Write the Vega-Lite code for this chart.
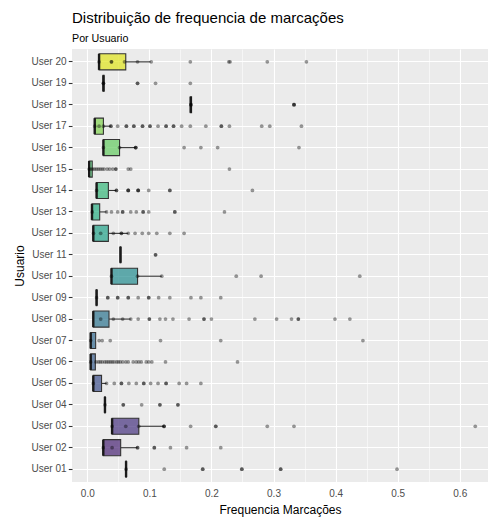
{
 "$schema": "https://vega.github.io/schema/vega-lite/v6.json",
 "width": 416,
 "height": 433,
 "autosize": "none",
 "padding": {"left": 72, "top": 49, "right": 1, "bottom": 44},
 "title": {"text": "Distribuição de frequencia de marcações", "subtitle": "Por Usuario", "anchor": "start", "frame": "group", "fontSize": 15, "fontWeight": "normal", "subtitleFontSize": 10.7, "color": "black", "subtitleColor": "black", "offset": 5, "subtitlePadding": 8, "font": "Liberation Sans", "subtitleFont": "Liberation Sans"},
 "datasets": {
  "boxes": [
   {"user": "User 20", "lo": 0.019, "q1": 0.019, "med": 0.019, "q3": 0.062, "hi": 0.102},
   {"user": "User 19", "lo": 0.0255, "q1": 0.0255, "med": 0.026, "q3": 0.027, "hi": 0.027},
   {"user": "User 18", "lo": 0.166, "q1": 0.166, "med": 0.1667, "q3": 0.168, "hi": 0.168},
   {"user": "User 17", "lo": 0.012, "q1": 0.012, "med": 0.012, "q3": 0.026, "hi": 0.038},
   {"user": "User 16", "lo": 0.026, "q1": 0.026, "med": 0.026, "q3": 0.052, "hi": 0.078},
   {"user": "User 15", "lo": 0.003, "q1": 0.003, "med": 0.003, "q3": 0.008, "hi": 0.008},
   {"user": "User 14", "lo": 0.015, "q1": 0.015, "med": 0.015, "q3": 0.034, "hi": 0.047},
   {"user": "User 13", "lo": 0.0076, "q1": 0.0076, "med": 0.0076, "q3": 0.02, "hi": 0.031},
   {"user": "User 12", "lo": 0.0097, "q1": 0.0097, "med": 0.0097, "q3": 0.034, "hi": 0.066},
   {"user": "User 11", "lo": 0.053, "q1": 0.053, "med": 0.0535, "q3": 0.054, "hi": 0.054},
   {"user": "User 10", "lo": 0.039, "q1": 0.039, "med": 0.039, "q3": 0.081, "hi": 0.12},
   {"user": "User 09", "lo": 0.0145, "q1": 0.0145, "med": 0.015, "q3": 0.0155, "hi": 0.0155},
   {"user": "User 08", "lo": 0.0097, "q1": 0.0097, "med": 0.0097, "q3": 0.035, "hi": 0.07},
   {"user": "User 07", "lo": 0.0055, "q1": 0.0055, "med": 0.0055, "q3": 0.0135, "hi": 0.0135},
   {"user": "User 06", "lo": 0.0055, "q1": 0.0055, "med": 0.0055, "q3": 0.013, "hi": 0.013},
   {"user": "User 05", "lo": 0.0097, "q1": 0.0097, "med": 0.0097, "q3": 0.023, "hi": 0.031},
   {"user": "User 04", "lo": 0.028, "q1": 0.028, "med": 0.0285, "q3": 0.029, "hi": 0.029},
   {"user": "User 03", "lo": 0.04, "q1": 0.04, "med": 0.04, "q3": 0.083, "hi": 0.1236},
   {"user": "User 02", "lo": 0.0258, "q1": 0.0258, "med": 0.0258, "q3": 0.0538, "hi": 0.081},
   {"user": "User 01", "lo": 0.062, "q1": 0.062, "med": 0.0625, "q3": 0.063, "hi": 0.063}
  ],
  "points": [
   {"user": "User 20", "value": 0.019}, {"user": "User 20", "value": 0.039}, {"user": "User 20", "value": 0.039}, {"user": "User 20", "value": 0.06}, {"user": "User 20", "value": 0.081}, {"user": "User 20", "value": 0.103}, {"user": "User 20", "value": 0.166}, {"user": "User 20", "value": 0.228}, {"user": "User 20", "value": 0.23}, {"user": "User 20", "value": 0.29}, {"user": "User 20", "value": 0.353},
   {"user": "User 19", "value": 0.026}, {"user": "User 19", "value": 0.026}, {"user": "User 19", "value": 0.081}, {"user": "User 19", "value": 0.081}, {"user": "User 19", "value": 0.11}, {"user": "User 19", "value": 0.166},
   {"user": "User 18", "value": 0.167}, {"user": "User 18", "value": 0.167}, {"user": "User 18", "value": 0.333}, {"user": "User 18", "value": 0.333}, {"user": "User 18", "value": 0.333},
   {"user": "User 17", "value": 0.012}, {"user": "User 17", "value": 0.019}, {"user": "User 17", "value": 0.026}, {"user": "User 17", "value": 0.038}, {"user": "User 17", "value": 0.038}, {"user": "User 17", "value": 0.049}, {"user": "User 17", "value": 0.063}, {"user": "User 17", "value": 0.063}, {"user": "User 17", "value": 0.075}, {"user": "User 17", "value": 0.075}, {"user": "User 17", "value": 0.089}, {"user": "User 17", "value": 0.089}, {"user": "User 17", "value": 0.101}, {"user": "User 17", "value": 0.101}, {"user": "User 17", "value": 0.114}, {"user": "User 17", "value": 0.127}, {"user": "User 17", "value": 0.127}, {"user": "User 17", "value": 0.139}, {"user": "User 17", "value": 0.139}, {"user": "User 17", "value": 0.152}, {"user": "User 17", "value": 0.166}, {"user": "User 17", "value": 0.191}, {"user": "User 17", "value": 0.216}, {"user": "User 17", "value": 0.216}, {"user": "User 17", "value": 0.229}, {"user": "User 17", "value": 0.281}, {"user": "User 17", "value": 0.294}, {"user": "User 17", "value": 0.345},
   {"user": "User 16", "value": 0.026}, {"user": "User 16", "value": 0.052}, {"user": "User 16", "value": 0.078}, {"user": "User 16", "value": 0.078}, {"user": "User 16", "value": 0.078}, {"user": "User 16", "value": 0.156}, {"user": "User 16", "value": 0.183}, {"user": "User 16", "value": 0.21}, {"user": "User 16", "value": 0.341},
   {"user": "User 15", "value": 0.003}, {"user": "User 15", "value": 0.006}, {"user": "User 15", "value": 0.009}, {"user": "User 15", "value": 0.012}, {"user": "User 15", "value": 0.015}, {"user": "User 15", "value": 0.018}, {"user": "User 15", "value": 0.021}, {"user": "User 15", "value": 0.024}, {"user": "User 15", "value": 0.027}, {"user": "User 15", "value": 0.032}, {"user": "User 15", "value": 0.036}, {"user": "User 15", "value": 0.041}, {"user": "User 15", "value": 0.046}, {"user": "User 15", "value": 0.046}, {"user": "User 15", "value": 0.066}, {"user": "User 15", "value": 0.07}, {"user": "User 15", "value": 0.229},
   {"user": "User 14", "value": 0.015}, {"user": "User 14", "value": 0.047}, {"user": "User 14", "value": 0.047}, {"user": "User 14", "value": 0.066}, {"user": "User 14", "value": 0.066}, {"user": "User 14", "value": 0.066}, {"user": "User 14", "value": 0.082}, {"user": "User 14", "value": 0.082}, {"user": "User 14", "value": 0.082}, {"user": "User 14", "value": 0.099}, {"user": "User 14", "value": 0.133}, {"user": "User 14", "value": 0.133}, {"user": "User 14", "value": 0.266},
   {"user": "User 13", "value": 0.008}, {"user": "User 13", "value": 0.031}, {"user": "User 13", "value": 0.039}, {"user": "User 13", "value": 0.049}, {"user": "User 13", "value": 0.057}, {"user": "User 13", "value": 0.057}, {"user": "User 13", "value": 0.07}, {"user": "User 13", "value": 0.079}, {"user": "User 13", "value": 0.09}, {"user": "User 13", "value": 0.09}, {"user": "User 13", "value": 0.099}, {"user": "User 13", "value": 0.141}, {"user": "User 13", "value": 0.141}, {"user": "User 13", "value": 0.221},
   {"user": "User 12", "value": 0.01}, {"user": "User 12", "value": 0.0216}, {"user": "User 12", "value": 0.042}, {"user": "User 12", "value": 0.055}, {"user": "User 12", "value": 0.055}, {"user": "User 12", "value": 0.066}, {"user": "User 12", "value": 0.077}, {"user": "User 12", "value": 0.0886}, {"user": "User 12", "value": 0.099}, {"user": "User 12", "value": 0.112}, {"user": "User 12", "value": 0.133}, {"user": "User 12", "value": 0.156},
   {"user": "User 11", "value": 0.11}, {"user": "User 11", "value": 0.11},
   {"user": "User 10", "value": 0.039}, {"user": "User 10", "value": 0.081}, {"user": "User 10", "value": 0.12}, {"user": "User 10", "value": 0.24}, {"user": "User 10", "value": 0.28}, {"user": "User 10", "value": 0.439},
   {"user": "User 09", "value": 0.015}, {"user": "User 09", "value": 0.033}, {"user": "User 09", "value": 0.033}, {"user": "User 09", "value": 0.049}, {"user": "User 09", "value": 0.049}, {"user": "User 09", "value": 0.066}, {"user": "User 09", "value": 0.066}, {"user": "User 09", "value": 0.082}, {"user": "User 09", "value": 0.099}, {"user": "User 09", "value": 0.099}, {"user": "User 09", "value": 0.115}, {"user": "User 09", "value": 0.133}, {"user": "User 09", "value": 0.167}, {"user": "User 09", "value": 0.183}, {"user": "User 09", "value": 0.215},
   {"user": "User 08", "value": 0.0216}, {"user": "User 08", "value": 0.042}, {"user": "User 08", "value": 0.057}, {"user": "User 08", "value": 0.07}, {"user": "User 08", "value": 0.082}, {"user": "User 08", "value": 0.1}, {"user": "User 08", "value": 0.1}, {"user": "User 08", "value": 0.117}, {"user": "User 08", "value": 0.126}, {"user": "User 08", "value": 0.138}, {"user": "User 08", "value": 0.164}, {"user": "User 08", "value": 0.188}, {"user": "User 08", "value": 0.188}, {"user": "User 08", "value": 0.2}, {"user": "User 08", "value": 0.27}, {"user": "User 08", "value": 0.305}, {"user": "User 08", "value": 0.329}, {"user": "User 08", "value": 0.34}, {"user": "User 08", "value": 0.34}, {"user": "User 08", "value": 0.399}, {"user": "User 08", "value": 0.423},
   {"user": "User 07", "value": 0.0055}, {"user": "User 07", "value": 0.019}, {"user": "User 07", "value": 0.024}, {"user": "User 07", "value": 0.037}, {"user": "User 07", "value": 0.118}, {"user": "User 07", "value": 0.215}, {"user": "User 07", "value": 0.444},
   {"user": "User 06", "value": 0.0055}, {"user": "User 06", "value": 0.014}, {"user": "User 06", "value": 0.018}, {"user": "User 06", "value": 0.021}, {"user": "User 06", "value": 0.024}, {"user": "User 06", "value": 0.028}, {"user": "User 06", "value": 0.031}, {"user": "User 06", "value": 0.034}, {"user": "User 06", "value": 0.037}, {"user": "User 06", "value": 0.04}, {"user": "User 06", "value": 0.043}, {"user": "User 06", "value": 0.047}, {"user": "User 06", "value": 0.05}, {"user": "User 06", "value": 0.053}, {"user": "User 06", "value": 0.057}, {"user": "User 06", "value": 0.062}, {"user": "User 06", "value": 0.066}, {"user": "User 06", "value": 0.074}, {"user": "User 06", "value": 0.079}, {"user": "User 06", "value": 0.083}, {"user": "User 06", "value": 0.087}, {"user": "User 06", "value": 0.095}, {"user": "User 06", "value": 0.099}, {"user": "User 06", "value": 0.104}, {"user": "User 06", "value": 0.126}, {"user": "User 06", "value": 0.242},
   {"user": "User 05", "value": 0.0097}, {"user": "User 05", "value": 0.031}, {"user": "User 05", "value": 0.0435}, {"user": "User 05", "value": 0.055}, {"user": "User 05", "value": 0.055}, {"user": "User 05", "value": 0.067}, {"user": "User 05", "value": 0.079}, {"user": "User 05", "value": 0.091}, {"user": "User 05", "value": 0.091}, {"user": "User 05", "value": 0.102}, {"user": "User 05", "value": 0.114}, {"user": "User 05", "value": 0.127}, {"user": "User 05", "value": 0.127}, {"user": "User 05", "value": 0.148}, {"user": "User 05", "value": 0.16}, {"user": "User 05", "value": 0.183},
   {"user": "User 04", "value": 0.0285}, {"user": "User 04", "value": 0.058}, {"user": "User 04", "value": 0.058}, {"user": "User 04", "value": 0.0876}, {"user": "User 04", "value": 0.117}, {"user": "User 04", "value": 0.117}, {"user": "User 04", "value": 0.146}, {"user": "User 04", "value": 0.146},
   {"user": "User 03", "value": 0.04}, {"user": "User 03", "value": 0.062}, {"user": "User 03", "value": 0.083}, {"user": "User 03", "value": 0.1236}, {"user": "User 03", "value": 0.1236}, {"user": "User 03", "value": 0.1236}, {"user": "User 03", "value": 0.1665}, {"user": "User 03", "value": 0.207}, {"user": "User 03", "value": 0.207}, {"user": "User 03", "value": 0.29}, {"user": "User 03", "value": 0.333}, {"user": "User 03", "value": 0.625},
   {"user": "User 02", "value": 0.0258}, {"user": "User 02", "value": 0.04}, {"user": "User 02", "value": 0.081}, {"user": "User 02", "value": 0.081}, {"user": "User 02", "value": 0.108}, {"user": "User 02", "value": 0.108}, {"user": "User 02", "value": 0.134}, {"user": "User 02", "value": 0.16}, {"user": "User 02", "value": 0.215},
   {"user": "User 01", "value": 0.0625}, {"user": "User 01", "value": 0.124}, {"user": "User 01", "value": 0.186}, {"user": "User 01", "value": 0.186}, {"user": "User 01", "value": 0.249}, {"user": "User 01", "value": 0.249}, {"user": "User 01", "value": 0.3115}, {"user": "User 01", "value": 0.3115}, {"user": "User 01", "value": 0.499}
  ]
 },
 "layer": [
  {
   "data": {"name": "boxes"},
   "mark": {"type": "rule", "color": "#333333", "strokeWidth": 1.1},
   "encoding": {
    "y": {"field": "user", "type": "nominal", "sort": "descending", "title": "Usuario"},
    "x": {"field": "q3", "type": "quantitative", "title": "Frequencia Marcações", "scale": {"domain": [-0.0246, 0.6455], "nice": false, "zero": false}},
    "x2": {"field": "hi"}
   }
  },
  {
   "data": {"name": "boxes"},
   "mark": {"type": "rule", "color": "#333333", "strokeWidth": 1.1},
   "encoding": {
    "y": {"field": "user", "type": "nominal", "sort": "descending", "title": "Usuario"},
    "x": {"field": "lo", "type": "quantitative", "title": "Frequencia Marcações"},
    "x2": {"field": "q1"}
   }
  },
  {
   "data": {"name": "boxes"},
   "mark": {"type": "bar", "height": {"band": 0.75}, "fillOpacity": 0.7, "stroke": "#333333", "strokeWidth": 1.1},
   "encoding": {
    "y": {"field": "user", "type": "nominal", "sort": "descending", "title": "Usuario"},
    "x": {"field": "q1", "type": "quantitative", "title": "Frequencia Marcações"},
    "x2": {"field": "q3"},
    "fill": {"field": "user", "type": "ordinal", "scale": {"scheme": "viridis"}, "legend": null}
   }
  },
  {
   "data": {"name": "boxes"},
   "mark": {"type": "tick", "orient": "vertical", "size": 16, "thickness": 2.4, "color": "#1a1a1a", "opacity": 1},
   "encoding": {
    "y": {"field": "user", "type": "nominal", "sort": "descending", "title": "Usuario"},
    "x": {"field": "med", "type": "quantitative", "title": "Frequencia Marcações"}
   }
  },
  {
   "data": {"name": "points"},
   "mark": {"type": "circle", "size": 14, "color": "black", "opacity": 0.4},
   "encoding": {
    "y": {"field": "user", "type": "nominal", "sort": "descending", "title": "Usuario"},
    "x": {"field": "value", "type": "quantitative", "title": "Frequencia Marcações"}
   }
  }
 ],
 "resolve": {"scale": {"x": "shared", "y": "shared"}},
 "config": {
  "font": "Liberation Sans",
  "view": {"fill": "#EBEBEB", "stroke": null},
  "scale": {"bandPaddingInner": 0, "bandPaddingOuter": 0.1},
  "axis": {
   "domain": false,
   "labelColor": "#4D4D4D",
   "labelFontSize": 10,
   "tickColor": "#333333",
   "tickSize": 3.7,
   "tickWidth": 1.1,
   "gridColor": "#FFFFFF",
   "gridOpacity": 1,
   "titleColor": "#000000",
   "titleFontSize": 12,
   "titleFontWeight": "normal"
  },
  "axisY": {
   "bandPosition": 0.5,
   "grid": true,
   "gridWidth": 1.1,
   "labelPadding": 2.2,
   "titlePadding": 5
  },
  "axisX": {
   "values": [0, 0.05, 0.1, 0.15, 0.2, 0.25, 0.3, 0.35, 0.4, 0.45, 0.5, 0.55, 0.6],
   "labelExpr": "round(datum.value*20) % 2 == 0 ? format(datum.value, '.1f') : ''",
   "gridWidth": {"condition": {"test": "round(datum.value*20) % 2 == 0", "value": 1.1}, "value": 0.55},
   "tickOpacity": {"condition": {"test": "round(datum.value*20) % 2 == 0", "value": 1}, "value": 0},
   "labelOverlap": false,
   "labelFlush": false,
   "labelPadding": 2.5,
   "titlePadding": 6
  }
 }
}
